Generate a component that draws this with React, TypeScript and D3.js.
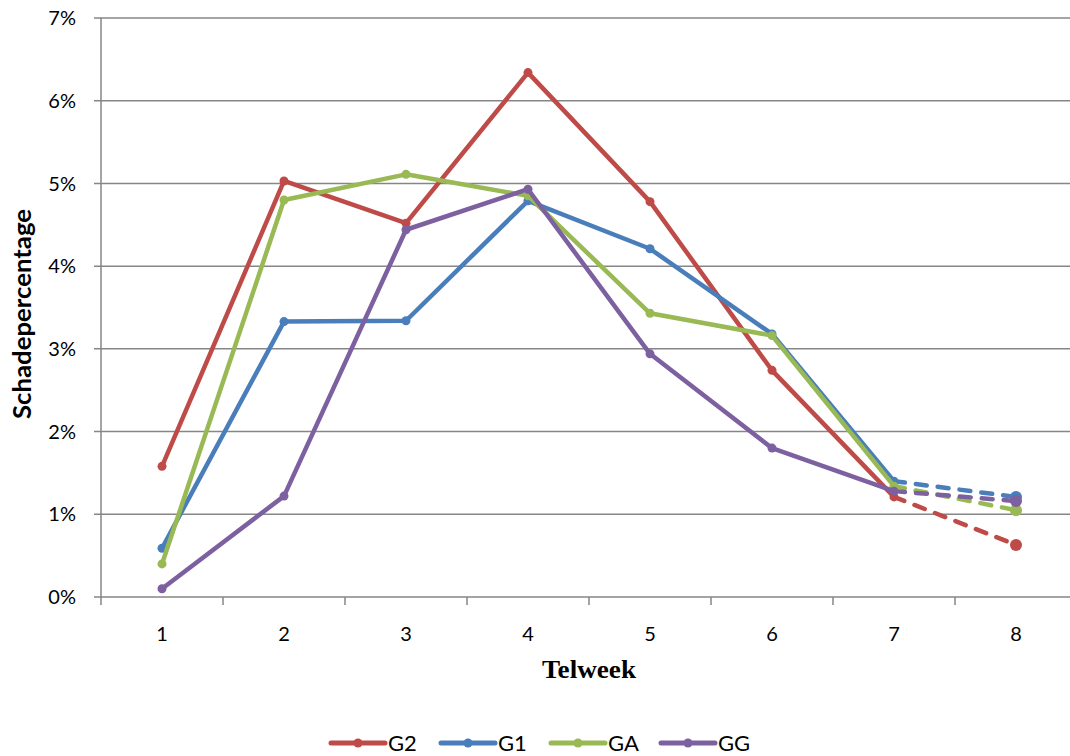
import React from "react";
import * as d3 from "d3";

// Weekly damage percentage per group (values in %)
const weeks = ["1", "2", "3", "4", "5", "6", "7", "8"];
const g2 = [1.58, 5.03, 4.52, 6.34, 4.78, 2.74, 1.21, 0.63];
const g1 = [0.59, 3.33, 3.34, 4.79, 4.21, 3.18, 1.40, 1.21];
const ga = [0.40, 4.80, 5.11, 4.85, 3.43, 3.16, 1.34, 1.05];
const gg = [0.10, 1.22, 4.44, 4.93, 2.94, 1.80, 1.28, 1.16];
const yTicks = [0, 1, 2, 3, 4, 5, 6, 7];

const series = [
  { name: "G2", values: g2, color: "#BE4B48" },
  { name: "G1", values: g1, color: "#4A7EBB" },
  { name: "GA", values: ga, color: "#98B954" },
  { name: "GG", values: gg, color: "#7D60A0" },
];

const W = 1070;
const H = 756;
const left = 101;
const top = 18;
const bottom = 597;
const plotRight = 1077;

export default function App() {
  const x = d3.scaleBand<string>().domain(weeks).range([left, plotRight]).paddingInner(0).paddingOuter(0);
  const cx = (w: string) => (x(w) as number) + x.bandwidth() / 2;
  const y = d3.scaleLinear().domain([0, 7]).range([bottom, top]);
  const line = d3
    .line<[string, number]>()
    .x((d) => cx(d[0]))
    .y((d) => y(d[1]));

  const axisColor = "#868686";
  const sans = "Lato, 'Open Sans', sans-serif";

  return (
    <svg
      width={W}
      height={H}
      style={{ position: "absolute", left: 0, top: 0, background: "#fff" }}
    >
      {/* horizontal gridlines + y ticks */}
      {yTicks.map((t) => (
        <g key={t}>
          <line x1={left - 7} x2={W} y1={y(t)} y2={y(t)} stroke={axisColor} strokeWidth={1.5} />
          <text
            x={76}
            y={y(t)}
            dy="0.36em"
            textAnchor="end"
            fontFamily={sans}
            fontSize={20}
            fill="#000"
          >
            {t}%
          </text>
        </g>
      ))}
      {/* y axis line */}
      <line x1={left} x2={left} y1={top} y2={bottom} stroke={axisColor} strokeWidth={1.5} />
      {/* x ticks at band edges */}
      {weeks.map((w) => (
        <line
          key={"t" + w}
          x1={x(w) as number}
          x2={x(w) as number}
          y1={bottom}
          y2={bottom + 8}
          stroke={axisColor}
          strokeWidth={1.5}
        />
      ))}
      {weeks.map((w) => (
        <text
          key={"l" + w}
          x={cx(w)}
          y={641}
          textAnchor="middle"
          fontFamily={sans}
          fontSize={20}
          fill="#000"
        >
          {w}
        </text>
      ))}

      {/* series */}
      {series.map((s) => {
        const pts: [string, number][] = weeks.map((w, i) => [w, s.values[i]]);
        const solid = pts.slice(0, 7);
        const dashed = pts.slice(6, 8);
        return (
          <g key={s.name}>
            <path
              d={line(solid) as string}
              fill="none"
              stroke={s.color}
              strokeWidth={4.5}
              strokeLinejoin="round"
              strokeLinecap="round"
            />
            <path
              d={line(dashed) as string}
              fill="none"
              stroke={s.color}
              strokeWidth={4.5}
              strokeDasharray="11 11"
              strokeLinecap="round"
            />
            {pts.map((p, i) => (
              <circle
                key={i}
                cx={cx(p[0])}
                cy={y(p[1])}
                r={i === 7 ? 6 : 4.5}
                fill={s.color}
              />
            ))}
          </g>
        );
      })}

      {/* axis titles */}
      <text
        transform={`translate(31,314) rotate(-90)`}
        textAnchor="middle"
        fontFamily={sans}
        fontWeight="bold"
        fontSize={24}
        textLength={210}
        lengthAdjust="spacingAndGlyphs"
        fill="#000"
      >
        Schadepercentage
      </text>
      <text
        x={589}
        y={678}
        textAnchor="middle"
        fontFamily="'Liberation Serif', 'DejaVu Serif', serif"
        fontWeight="bold"
        fontSize={25}
        textLength={94}
        lengthAdjust="spacingAndGlyphs"
        fill="#000"
      >
        Telweek
      </text>

      {/* legend */}
      {series.map((s, i) => {
        const lx = 331 + i * 110;
        const ly = 743;
        return (
          <g key={"lg" + s.name}>
            <line
              x1={lx}
              x2={lx + 54}
              y1={ly}
              y2={ly}
              stroke={s.color}
              strokeWidth={5}
              strokeLinecap="round"
            />
            <circle cx={lx + 27} cy={ly} r={4.5} fill={s.color} />
            <text
              x={lx + 57}
              y={ly}
              dy="0.36em"
              fontFamily={sans}
              fontSize={22}
              fill="#000"
            >
              {s.name}
            </text>
          </g>
        );
      })}
    </svg>
  );
}
